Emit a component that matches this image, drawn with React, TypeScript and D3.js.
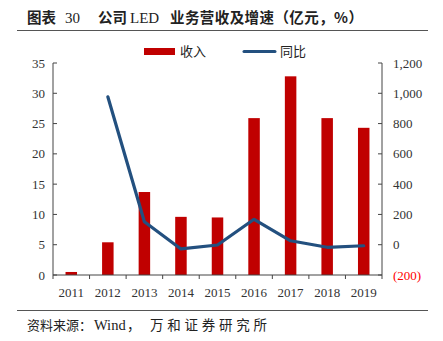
import React from "react";
import * as d3 from "d3";

const years = ["2011", "2012", "2013", "2014", "2015", "2016", "2017", "2018", "2019"];
const revenue = [0.5, 5.4, 13.7, 9.6, 9.5, 25.9, 32.8, 25.9, 24.3];
const growth: (number | null)[] = [null, 977, 152, -28, -2, 168, 26, -17, -7];
const leftTicks = [0, 5, 10, 15, 20, 25, 30, 35];
const rightTicks = [-200, 0, 200, 400, 600, 800, 1000, 1200];

export default function App() {
  const W = 443, H = 341;
  const x0 = 53, x1 = 382, yTop = 63, yBot = 275;
  const x = d3.scaleBand().domain(years).range([x0, x1]);
  const yL = d3.scaleLinear().domain([0, 35]).range([yBot, yTop]);
  const yR = d3.scaleLinear().domain([-200, 1200]).range([yBot, yTop]);
  const bw = 11.5;
  const pts = years.map((yr, i) => ({ yr, v: growth[i] })).filter(d => d.v !== null) as { yr: string; v: number }[];
  const line = d3.line<{ yr: string; v: number }>()
    .x(d => (x(d.yr) as number) + x.bandwidth() / 2)
    .y(d => yR(d.v));
  const fmt = d3.format(",");
  const serif = "'Liberation Serif', 'Times New Roman', serif";
  const cjk = "'Noto Sans CJK SC', sans-serif";
  const boundaries = d3.range(years.length + 1).map(i => x0 + i * x.bandwidth());
  return (
    <svg width={W} height={H} style={{ position: "absolute", left: 0, top: 0, background: "#fff" }}>
      <text x={27} y={23} fontFamily={cjk} fontSize={14.5} fontWeight={700} fill="#222">图表</text>
      <text x={65} y={23} fontFamily={serif} fontSize={15} fill="#222">30</text>
      <text x={98} y={23} fontFamily={cjk} fontSize={14.5} fontWeight={700} fill="#222">公司</text>
      <text x={130} y={23} fontFamily={serif} fontSize={15} fill="#222">LED</text>
      <text x={170} y={23} fontFamily={cjk} fontSize={14.5} fontWeight={700} fill="#222"
        textLength={193} lengthAdjust="spacing">业务营收及增速（亿元，%）</text>
      <line x1={17} x2={428} y1={30.5} y2={30.5} stroke="#555" strokeWidth={1} />
      {/* legend */}
      <rect x={144} y={48} width={31} height={7} fill="#C00000" />
      <text x={180} y={56} fontFamily={cjk} fontSize={13} fill="#222">收入</text>
      <line x1={244} x2={275} y1={51.5} y2={51.5} stroke="#23507F" strokeWidth={3} strokeLinecap="round" />
      <text x={280} y={56} fontFamily={cjk} fontSize={13} fill="#222">同比</text>
      {/* bars */}
      {years.map((yr, i) => (
        <rect key={yr} x={(x(yr) as number) + x.bandwidth() / 2 - bw / 2} y={yL(revenue[i])}
          width={bw} height={yBot - yL(revenue[i])} fill="#C00000" />
      ))}
      {/* line */}
      <path d={line(pts) || ""} fill="none" stroke="#23507F" strokeWidth={3.2} strokeLinejoin="round" strokeLinecap="round" />
      {/* axes */}
      <line x1={x0} x2={x0} y1={yTop} y2={yBot} stroke="#444" />
      <line x1={x1} x2={x1} y1={yTop} y2={yBot} stroke="#444" />
      <line x1={x0} x2={x1} y1={yBot} y2={yBot} stroke="#444" />
      {leftTicks.map(t => (
        <g key={"l" + t}>
          <line x1={x0} x2={x0 + 4} y1={yL(t)} y2={yL(t)} stroke="#444" />
          <text x={45} y={yL(t) + 4.5} textAnchor="end" fontFamily={serif} fontSize={13} fill="#333">{t}</text>
        </g>
      ))}
      {rightTicks.map(t => (
        <g key={"r" + t}>
          <line x1={x1 - 4} x2={x1} y1={yR(t)} y2={yR(t)} stroke="#444" />
          <text x={393} y={yR(t) + 4.5} fontFamily={serif} fontSize={13} fill={t < 0 ? "#FF0000" : "#333"}>
            {t < 0 ? `(${fmt(-t)})` : fmt(t)}
          </text>
        </g>
      ))}
      {boundaries.map((b, i) => (
        <line key={"b" + i} x1={b} x2={b} y1={yBot} y2={yBot + 4} stroke="#444" />
      ))}
      {years.map(yr => (
        <text key={"x" + yr} x={(x(yr) as number) + x.bandwidth() / 2} y={297} textAnchor="middle"
          fontFamily={serif} fontSize={13} fill="#333">{yr}</text>
      ))}
      <line x1={17} x2={428} y1={310.5} y2={310.5} stroke="#555" strokeWidth={1} />
      <text x={27} y={330} fontFamily={cjk} fontSize={13} fill="#222">资料来源：</text>
      <text x={94} y={330} fontFamily={serif} fontSize={14.5} fill="#222">Wind</text>
      <text x={127} y={330} fontFamily={cjk} fontSize={13.5} fill="#222">，</text>
      <text x={150} y={330} fontFamily={cjk} fontSize={13.5} fill="#222" textLength={117} lengthAdjust="spacing">万和证券研究所</text>
    </svg>
  );
}
